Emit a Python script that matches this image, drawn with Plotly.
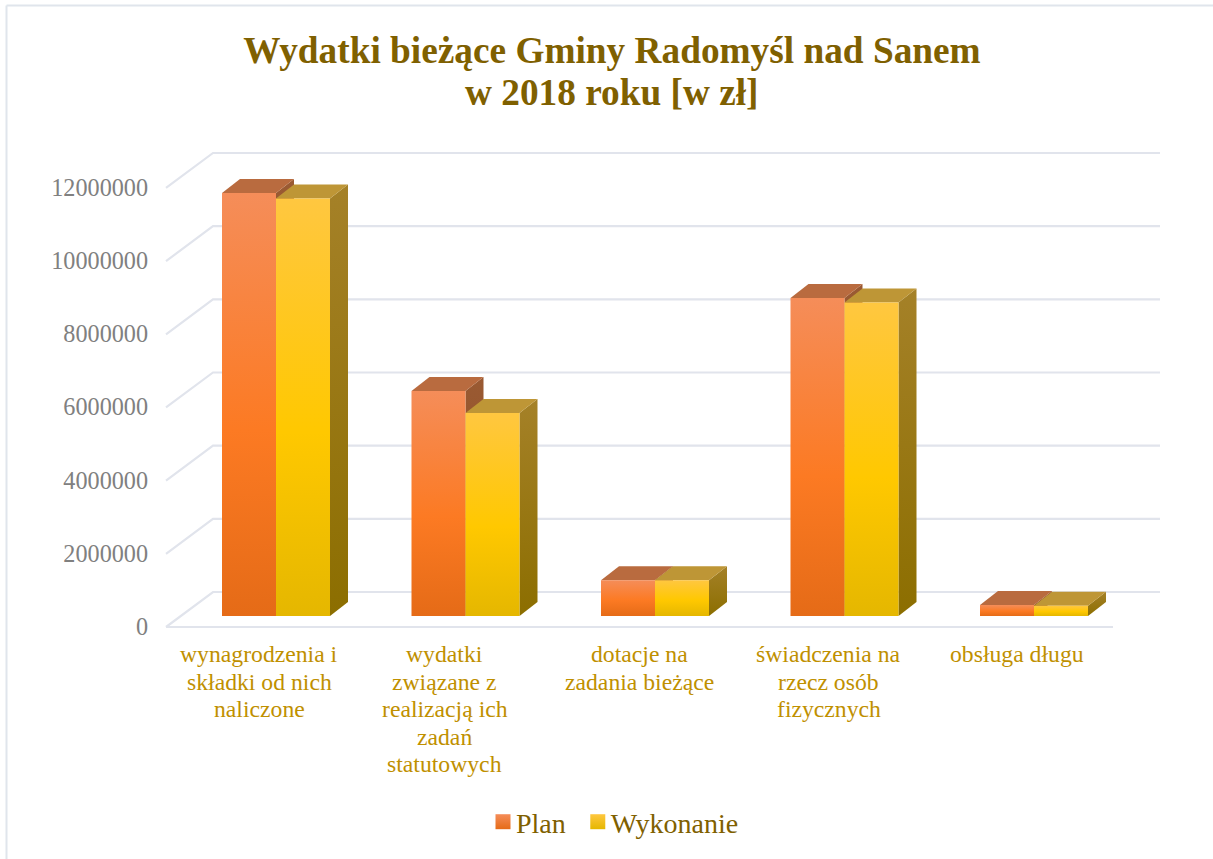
import plotly.graph_objects as go

# ---- data ----
categories = [
    "wynagrodzenia i<br>składki od nich<br>naliczone",
    "wydatki<br>związane z<br>realizacją ich<br>zadań<br>statutowych",
    "dotacje na<br>zadania bieżące",
    "świadczenia na<br>rzecz osób<br>fizycznych",
    "obsługa długu",
]
plan = [11560000, 6150000, 980000, 8690000, 300000]
wykonanie = [11410000, 5550000, 980000, 8570000, 280000]
y_ticks = [0, 2000000, 4000000, 6000000, 8000000, 10000000, 12000000]
series_names = ["Plan", "Wykonanie"]

# ---- chart geometry (pixels of the 1213x859 page) ----
W, H = 1213, 859
PX_LEFT, PX_RIGHT, PX_TOP, PX_BOTTOM = 149, 1180, 140, 640
GROUP0_PX, GROUP_STEP_PX = 276, 189.5
BASE_PX, PX_PER_UNIT = 616, 73.17 / 2000000

def dx(px):  # horizontal pixel length to x units
    return px / GROUP_STEP_PX

def dv(px):  # vertical pixel length to value units
    return px / PX_PER_UNIT

BAR_W = dx(54)
DEPTH_X, DEPTH_V = dx(18), dv(14)
WALL_X, WALL_V = dx(47), dv(35)
FLOOR_V = dv(-11)                       # front floor edge sits below the bar base
X_FRONT_L, X_FRONT_R = dx(166 - GROUP0_PX), dx(1113 - GROUP0_PX)
LABEL_SHIFT = dv(-10.5)
CAT_SHIFT = dx(-17)
cat_nudge = [0, -4, 1, 1, 0]
CAT_LINE_Y0, CAT_LINE_STEP = 654, 27.5

GRID = "#E1E4EC"
PLAN_FRONT = [[0, "#E56B17"], [0.44, "#FC7A23"], [1, "#F58D59"]]
WYK_FRONT = [[0, "#E5B700"], [0.44, "#FFC800"], [1, "#FFC740"]]
PLAN_SIDE = [[0, "#8A4B1A"], [1, "#9A5A33"]]
WYK_SIDE = [[0, "#8C6E00"], [1, "#A58128"]]
PLAN_TOP, WYK_TOP = "#B96B3F", "#BE9636"

fig = go.Figure()

# walls and grid lines
for t in y_ticks:
    gx = [X_FRONT_L, X_FRONT_L + WALL_X, X_FRONT_R + WALL_X]
    gy = [t + FLOOR_V, t + FLOOR_V + WALL_V, t + FLOOR_V + WALL_V]
    fig.add_trace(go.Scatter(x=gx, y=gy, mode="lines", line=dict(color=GRID, width=2.2),
                             showlegend=False, hoverinfo="skip"))
fig.add_trace(go.Scatter(x=[X_FRONT_L, X_FRONT_R], y=[FLOOR_V, FLOOR_V], mode="lines",
                         line=dict(color=GRID, width=2.2), showlegend=False, hoverinfo="skip"))

def poly(xs, ys, **kw):
    fig.add_trace(go.Scatter(x=xs + xs[:1], y=ys + ys[:1], mode="lines", fill="toself",
                             line=dict(width=0), showlegend=False, hoverinfo="skip", **kw))

def bar(i, offset, value, front, side, top):
    x0 = i + offset
    x1 = x0 + BAR_W
    poly([x1, x1 + DEPTH_X, x1 + DEPTH_X, x1],
         [0, DEPTH_V, value + DEPTH_V, value],
         fillgradient=dict(type="vertical", colorscale=side), fillcolor=side[1][1])
    poly([x0, x1, x1 + DEPTH_X, x0 + DEPTH_X],
         [value, value, value + DEPTH_V, value + DEPTH_V], fillcolor=top)
    poly([x0, x1, x1, x0], [0, 0, value, value],
         fillgradient=dict(type="vertical", colorscale=front), fillcolor=front[1][1])

for i in range(len(categories)):
    bar(i, -BAR_W, plan[i], PLAN_FRONT, PLAN_SIDE, PLAN_TOP)
    bar(i, 0, wykonanie[i], WYK_FRONT, WYK_SIDE, WYK_TOP)

# legend entries
for name, scale in zip(series_names, (PLAN_FRONT, WYK_FRONT)):
    fig.add_trace(go.Scatter(
        x=[None], y=[None], mode="markers", name=name,
        marker=dict(symbol="square", size=15, color=scale[2][1],
                    gradient=dict(type="vertical", color=scale[0][1]),
                    line=dict(width=0)),
    ))

# category labels, one annotation per line so the line pitch matches the reference
annotations = [dict(text="<b>w 2018 roku [w zł]</b>", xref="paper", yref="paper",
                    x=611.5 / W, y=1 - 92.5 / H, xanchor="center", yanchor="middle",
                    showarrow=False,
                    font=dict(size=37.3, color="#7F6000", family="Liberation Serif"))]
for i, cat in enumerate(categories):
    for j, line in enumerate(cat.split("<br>")):
        annotations.append(dict(
            text=line, xref="x", yref="paper",
            x=i + CAT_SHIFT + dx(cat_nudge[i]),
            y=1 - (CAT_LINE_Y0 + j * CAT_LINE_STEP) / H,
            xanchor="center", yanchor="middle", showarrow=False,
            font=dict(size=23.7, color="#BF9000", family="Liberation Serif")))

fig.update_layout(
    width=W, height=H, autosize=False,
    margin=dict(l=0, r=0, t=0, b=0),
    paper_bgcolor="white", plot_bgcolor="rgba(0,0,0,0)",
    font=dict(family="Liberation Serif"),
    title=dict(text="<b>Wydatki bieżące Gminy Radomyśl nad Sanem</b>",
               x=612 / W, xanchor="center", y=1 - 50 / H, yanchor="middle",
               font=dict(size=37.3, color="#7F6000", family="Liberation Serif")),
    annotations=annotations,
    xaxis=dict(domain=[PX_LEFT / W, PX_RIGHT / W],
               range=[dx(PX_LEFT - GROUP0_PX), dx(PX_RIGHT - GROUP0_PX)],
               showticklabels=False, ticks="", showgrid=False, zeroline=False,
               showline=False, automargin=False),
    yaxis=dict(domain=[1 - PX_BOTTOM / H, 1 - PX_TOP / H],
               range=[dv(BASE_PX - PX_BOTTOM), dv(BASE_PX - PX_TOP)],
               tickmode="array",
               tickvals=[t + LABEL_SHIFT for t in y_ticks],
               ticktext=[str(t) for t in y_ticks],
               ticks="", showgrid=False, zeroline=False, showline=False, automargin=False,
               tickfont=dict(size=24.2, color="#808080", family="Liberation Serif")),
    legend=dict(orientation="h", x=476 / W, xanchor="left", y=1 - 822 / H, yanchor="middle",
                font=dict(size=28, color="#7F6000", family="Liberation Serif"),
                bgcolor="rgba(0,0,0,0)"),
    shapes=[
        dict(type="line", xref="paper", yref="paper", x0=6.5 / W, x1=1, y0=1 - 5.5 / H, y1=1 - 5.5 / H,
             line=dict(color="#E0E5EC", width=2)),
        dict(type="line", xref="paper", yref="paper", x0=6.5 / W, x1=6.5 / W, y0=0, y1=1 - 5.5 / H,
             line=dict(color="#E0E5EC", width=2)),
    ],
)

fig.write_html(
    "out.html", config={"displayModeBar": False},
    post_script=(
        "document.body.style.margin='0';document.body.style.overflow='hidden';"
        "document.querySelectorAll('.legendsymbols').forEach(function(s){"
        "s.setAttribute('transform','translate(7,0)');});"
    ),
)
